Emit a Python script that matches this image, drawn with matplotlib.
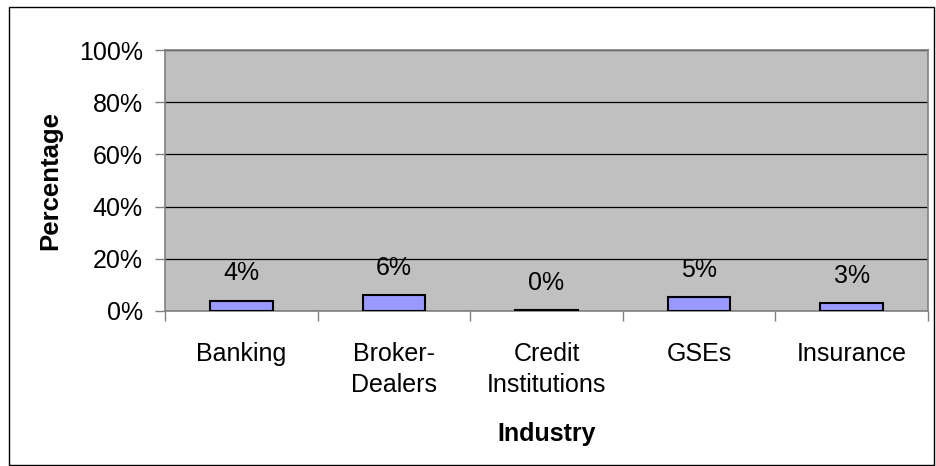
import matplotlib
matplotlib.use("Agg")
import matplotlib.pyplot as plt
from matplotlib.patches import Rectangle

# ---------- DATA ----------
industries = ["Banking", "Broker-\nDealers", "Credit\nInstitutions", "GSEs", "Insurance"]
percentages = [4.0, 6.0, 0.2, 5.4, 2.9]
yticks = [0, 20, 40, 60, 80, 100]
# --------------------------

plt.rcParams['font.family'] = ['Liberation Sans', 'DejaVu Sans']

W, H = 936, 466
fig = plt.figure(figsize=(W / 100, H / 100), dpi=100)

# outer chart border
fig.patches.append(Rectangle((9 / W, 1 / H), (W - 11) / W, (H - 8) / H,
                             transform=fig.transFigure, fill=False,
                             edgecolor='black', linewidth=1))

ax = fig.add_axes([165 / W, (H - 311) / H, 763 / W, 261 / H])
ax.set_facecolor('#C0C0C0')

x = list(range(len(industries)))
bars = ax.bar(x, percentages, width=0.41, color='#9999FF',
              edgecolor='black', linewidth=1.5, zorder=3)

for xi, v in zip(x, percentages):
    ax.annotate(f"{round(v)}%", (xi, v), xytext=(0, 19.5),
                textcoords='offset points', ha='center', va='center',
                fontsize=18)

ax.set_xlim(-0.5, len(industries) - 0.5)
ax.set_ylim(0, 100)
ax.set_yticks(yticks)
ax.set_yticklabels([f"{t}%" for t in yticks], fontsize=18)
ax.yaxis.grid(True, color='black', linewidth=0.9, zorder=1)
ax.set_axisbelow(True)

# category labels centred, ticks between categories
ax.set_xticks(x)
ax.set_xticklabels(industries, fontsize=18, linespacing=1.4)
ax.tick_params(axis='x', which='major', length=0, pad=22)
ax.set_xticks([i - 0.5 for i in range(len(industries) + 1)], minor=True)
ax.tick_params(axis='x', which='minor', length=7, width=1, color='#808080')
ax.tick_params(axis='y', length=7, width=1, color='#808080', pad=9)

for side in ['left', 'right', 'top', 'bottom']:
    ax.spines[side].set_color('#808080')
    ax.spines[side].set_linewidth(1.2)

ax.set_ylabel("Percentage", fontsize=18.5, fontweight='bold', labelpad=12)
ax.set_xlabel("Industry", fontsize=18, fontweight='bold', labelpad=18)

fig.savefig("out.png", dpi=100)
